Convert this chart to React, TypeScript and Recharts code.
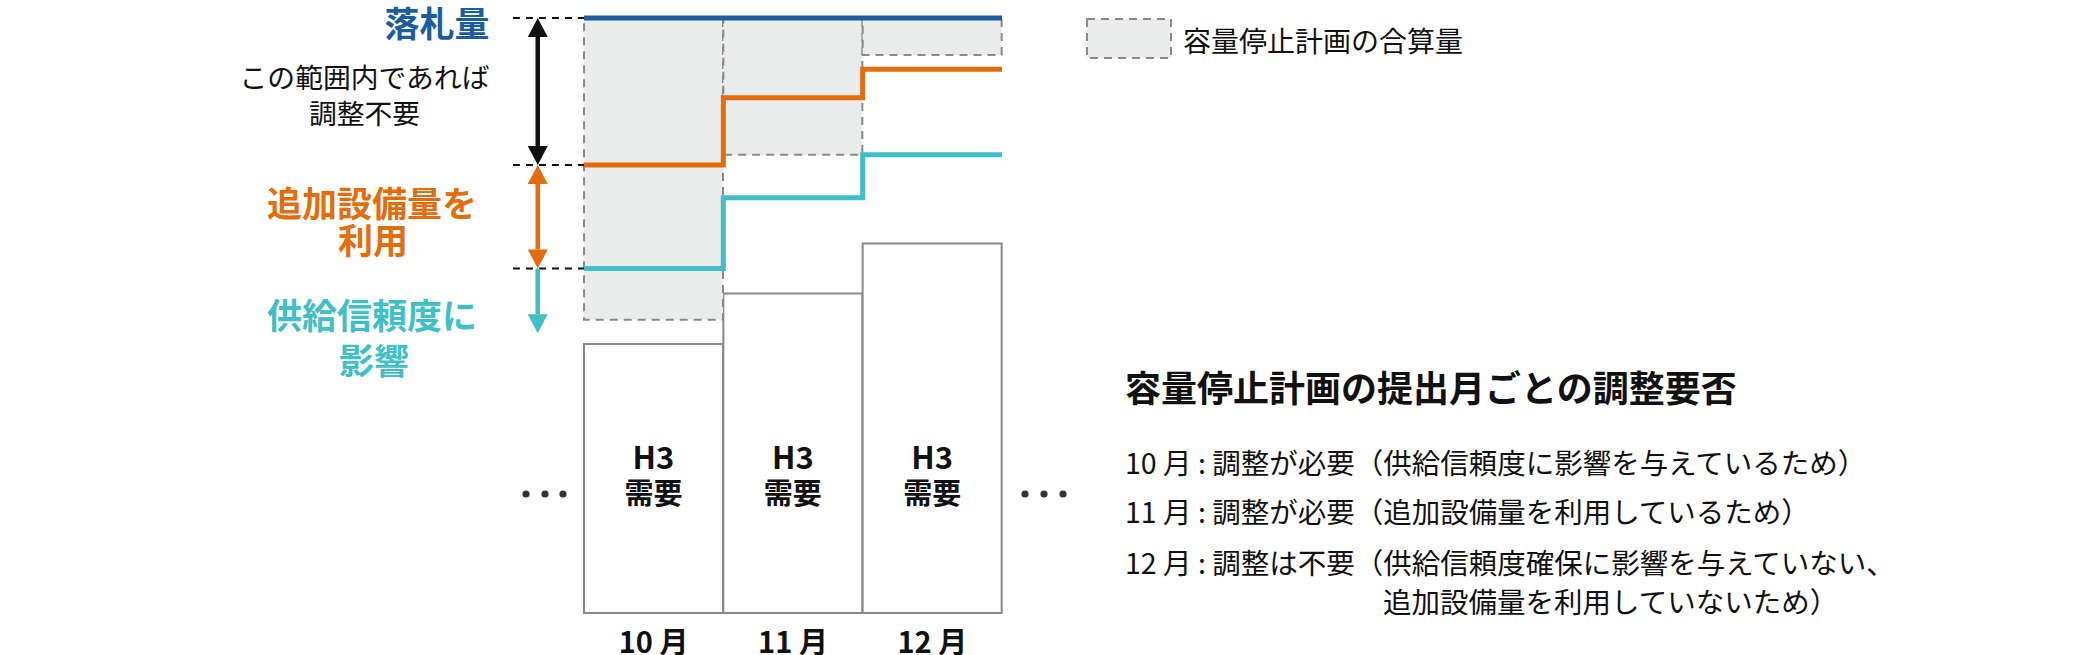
import React from 'react';
import { ComposedChart, Bar, Line, XAxis, YAxis, ReferenceLine, LabelList } from 'recharts';

// ---- data ----
const months = ['10 月', '11 月', '12 月'];
const demandH3 = [45.2, 53.7, 62.1];          // H3需要 bar tops
const outageFloor = [49.3, 77.0, 93.8];       // lower edge of the outage (gray) block
const awardLevel = [100, 100, 100];           // 落札量 (blue)
const additionalLevel = [75.3, 86.6, 91.4];   // 追加設備量 (orange)
const reliabilityLevel = [57.9, 69.8, 77.0];  // 供給信頼度 (cyan)
const reliabilityArrowEnd = 47;
const guideStartX = -0.51;
const arrowX = -0.332;
const barLabelLines = ['H3', '需要'];

const BLUE = '#1B5E9F';
const ORANGE = '#E46C0A';
const CYAN = '#3FC0C8';
const GRAY_FILL = '#EAEBEB';
const GRAY_LINE = '#8A8A8A';
const FONT = "'Noto Sans CJK JP', 'Noto Sans', sans-serif";

const barData = months.map((m, i) => ({
  month: m,
  demand: demandH3[i],
  gap: outageFloor[i] - demandH3[i],
  outage: awardLevel[i] - outageFloor[i],
}));

const toStep = (arr: number[]) => [
  ...arr.map((v, i) => ({ x: i, y: v })),
  { x: arr.length, y: arr[arr.length - 1] },
];

const arrowShape = (color: string, both: boolean) => (p: any) => {
  const x1 = Number(p.x1), y1 = Number(p.y1), x2 = Number(p.x2), y2 = Number(p.y2);
  const hl = 19, hw = 10;
  const dir = Math.sign(y2 - y1) || 1;
  const sy1 = both ? y1 + dir * hl : y1;
  const sy2 = y2 - dir * hl;
  return (
    <g>
      <line x1={x1} y1={sy1} x2={x2} y2={sy2} stroke={color} strokeWidth={4.5} />
      <polygon points={`${x2},${y2} ${x2 - hw},${y2 - dir * hl} ${x2 + hw},${y2 - dir * hl}`} fill={color} />
      {both && (
        <polygon points={`${x1},${y1} ${x1 - hw},${y1 + dir * hl} ${x1 + hw},${y1 + dir * hl}`} fill={color} />
      )}
    </g>
  );
};

const demandLabel = (props: any) => {
  const { x, y, width, height, index } = props;
  const cx = Number(x) + Number(width) / 2;
  const bottom = Number(y) + Number(height);
  return (
    <g key={`lbl-${index}`}>
      <text x={cx} y={bottom - 158} textAnchor="middle" dominantBaseline="central" fontSize={31} fontWeight={700} fill="#111" fontFamily={FONT}>
        {barLabelLines[0]}
      </text>
      <text x={cx} y={bottom - 122} textAnchor="middle" dominantBaseline="central" fontSize={29} fontWeight={700} fill="#111" fontFamily={FONT}>
        {barLabelLines[1]}
      </text>
    </g>
  );
};

const MonthTick = (props: any) => {
  const { x, y, payload } = props;
  return (
    <text x={x} y={Number(y) + 27} textAnchor="middle" dominantBaseline="central" fontSize={29} fontWeight={700} fill="#111" fontFamily={FONT}>
      {payload.value}
    </text>
  );
};

export default function App() {
  return (
    <div style={{ position: 'relative', width: 2080, height: 655, overflow: 'hidden', background: '#fff', fontFamily: FONT }}>
      <style>{'body{margin:0;background:#fff}'}</style>
      <div style={{ position: 'absolute', left: 0, top: 0 }}>
        <ComposedChart
          width={2080}
          height={655}
          data={barData}
          margin={{ top: 18, right: 1078, bottom: 2, left: 584 }}
          barCategoryGap={0}
          barGap={0}
        >
          <XAxis xAxisId="cat" dataKey="month" height={40} axisLine={false} tickLine={false} tickSize={0} tickMargin={0} interval={0} tick={<MonthTick />} />
          <XAxis xAxisId="num" dataKey="x" type="number" domain={[0, 3]} ticks={[0, 1, 2, 3]} hide orientation="top" height={0} />
          <YAxis type="number" domain={[0, 100]} hide width={0} />

          <Bar xAxisId="cat" dataKey="demand" stackId="s" fill="#fff" stroke={GRAY_LINE} strokeWidth={2} isAnimationActive={false}>
            <LabelList dataKey="demand" content={demandLabel} />
          </Bar>
          <Bar xAxisId="cat" dataKey="gap" stackId="s" fill="none" stroke="none" isAnimationActive={false} />
          <Bar xAxisId="cat" dataKey="outage" stackId="s" fill={GRAY_FILL} stroke={GRAY_LINE} strokeWidth={2} strokeDasharray="8 6" isAnimationActive={false} />

          <ReferenceLine xAxisId="num" ifOverflow="visible" stroke="#111" strokeWidth={2} strokeDasharray="7 6"
            segment={[{ x: guideStartX, y: awardLevel[0] }, { x: 0, y: awardLevel[0] }]} />
          <ReferenceLine xAxisId="num" ifOverflow="visible" stroke="#111" strokeWidth={2} strokeDasharray="7 6"
            segment={[{ x: guideStartX, y: additionalLevel[0] }, { x: 0, y: additionalLevel[0] }]} />
          <ReferenceLine xAxisId="num" ifOverflow="visible" stroke="#111" strokeWidth={2} strokeDasharray="7 6"
            segment={[{ x: guideStartX, y: reliabilityLevel[0] }, { x: 0, y: reliabilityLevel[0] }]} />

          <ReferenceLine xAxisId="num" ifOverflow="visible" shape={arrowShape('#111', true)}
            segment={[{ x: arrowX, y: awardLevel[0] }, { x: arrowX, y: additionalLevel[0] }]} />
          <ReferenceLine xAxisId="num" ifOverflow="visible" shape={arrowShape(ORANGE, true)}
            segment={[{ x: arrowX, y: additionalLevel[0] }, { x: arrowX, y: reliabilityLevel[0] }]} />
          <ReferenceLine xAxisId="num" ifOverflow="visible" shape={arrowShape(CYAN, false)}
            segment={[{ x: arrowX, y: reliabilityLevel[0] }, { x: arrowX, y: reliabilityArrowEnd }]} />

          <Line xAxisId="num" data={toStep(reliabilityLevel)} dataKey="y" type="stepAfter" stroke={CYAN} strokeWidth={5} dot={false} activeDot={false} isAnimationActive={false} />
          <Line xAxisId="num" data={toStep(additionalLevel)} dataKey="y" type="stepAfter" stroke={ORANGE} strokeWidth={5} dot={false} activeDot={false} isAnimationActive={false} />
          <Line xAxisId="num" data={toStep(awardLevel)} dataKey="y" type="stepAfter" stroke={BLUE} strokeWidth={5} dot={false} activeDot={false} isAnimationActive={false} />
        </ComposedChart>
      </div>

      <svg width={2080} height={655} style={{ position: 'absolute', left: 0, top: 0, pointerEvents: 'none' }} fontFamily={FONT}>
        {/* left annotations */}
        <text x={489.5} y={21} textAnchor="end" dominantBaseline="central" fontSize={35} fontWeight={700} fill={BLUE}>落札量</text>
        <text x={364.5} y={76} textAnchor="middle" dominantBaseline="central" fontSize={27.8} fill="#111">この範囲内であれば</text>
        <text x={364.5} y={111.5} textAnchor="middle" dominantBaseline="central" fontSize={27.8} fill="#111">調整不要</text>
        <text x={372} y={201} textAnchor="middle" dominantBaseline="central" fontSize={35} fontWeight={700} fill={ORANGE}>追加設備量を</text>
        <text x={373} y={238} textAnchor="middle" dominantBaseline="central" fontSize={35} fontWeight={700} fill={ORANGE}>利用</text>
        <text x={372} y={313} textAnchor="middle" dominantBaseline="central" fontSize={35} fontWeight={700} fill={CYAN}>供給信頼度に</text>
        <text x={374} y={358} textAnchor="middle" dominantBaseline="central" fontSize={35} fontWeight={700} fill={CYAN}>影響</text>

        {/* ellipsis dots */}
        {[526, 545, 563, 1025, 1044, 1063].map((cx) => (
          <circle key={cx} cx={cx} cy={494} r={3.6} fill="#333" />
        ))}

        {/* legend */}
        <rect x={1087} y={19} width={84} height={39} fill={GRAY_FILL} stroke={GRAY_LINE} strokeWidth={2} strokeDasharray="8 6" />
        <text x={1183} y={40} dominantBaseline="central" fontSize={28} fill="#111">容量停止計画の合算量</text>

        {/* right explanation */}
        <text x={1125} y={386} dominantBaseline="central" fontSize={36} fontWeight={700} fill="#111">容量停止計画の提出月ごとの調整要否</text>
        <text x={1125} y={461.5} dominantBaseline="central" fontSize={28.5} fill="#111">10 月 : 調整が必要（供給信頼度に影響を与えているため）</text>
        <text x={1125} y={510.5} dominantBaseline="central" fontSize={28.5} fill="#111">11 月 : 調整が必要（追加設備量を利用しているため）</text>
        <text x={1125} y={561} dominantBaseline="central" fontSize={28.5} fill="#111">12 月 : 調整は不要（供給信頼度確保に影響を与えていない、</text>
        <text x={1383} y={600} dominantBaseline="central" fontSize={28.5} fill="#111">追加設備量を利用していないため）</text>
      </svg>
    </div>
  );
}
